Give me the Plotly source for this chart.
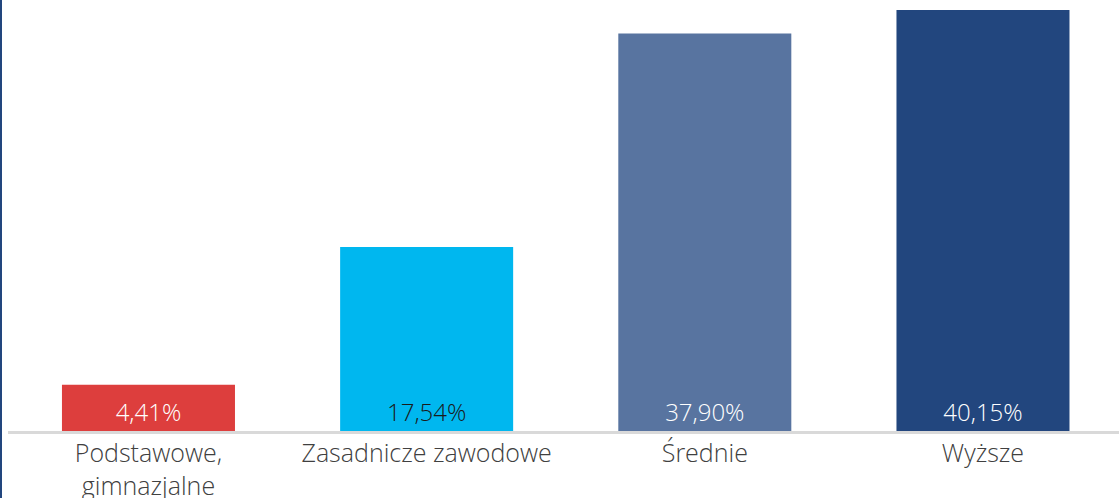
import plotly.graph_objects as go

categories = ["Podstawowe,<br>gimnazjalne", "Zasadnicze zawodowe", "Średnie", "Wyższe"]
values = [4.41, 17.54, 37.90, 40.15]
value_labels = ["4,41%", "17,54%", "37,90%", "40,15%"]
bar_colors = ["#DD3E3D", "#00B7EF", "#5874A0", "#22467E"]
text_colors = ["#FFFFFF", "#1a1a1a", "#FFFFFF", "#FFFFFF"]

fig = go.Figure(go.Bar(
    x=list(range(len(categories))),
    y=values,
    marker=dict(color=bar_colors, line=dict(width=0)),
    text=value_labels,
    textposition="inside",
    insidetextanchor="start",
    textangle=0,
    textfont=dict(family="Open Sans", size=24, color=text_colors, weight=300),
    hoverinfo="skip",
))

fig.update_layout(
    width=1119, height=498,
    margin=dict(l=8, r=0, t=0, b=67),
    paper_bgcolor="white", plot_bgcolor="white",
    showlegend=False,
    bargap=0.378,
    xaxis=dict(
        range=[-0.505, 3.489],
        tickmode="array",
        tickvals=list(range(len(categories))),
        ticktext=categories,
        showline=True, linecolor="#D9D9D9", linewidth=3,
        showgrid=False, zeroline=False, ticks="",
        automargin=False,
        ticklabelstandoff=-2,
        tickfont=dict(family="Open Sans", size=25, color="#404040", weight=300),
    ),
    yaxis=dict(
        range=[0, 41.1], visible=False, showgrid=False, zeroline=False,
    ),
    shapes=[dict(
        type="line", xref="paper", yref="paper",
        x0=-7/1111, x1=-7/1111, y0=-0.2, y1=1.05,
        line=dict(color="#22467E", width=2),
    )],
)

fig.write_html(
    "out.html",
    config={"displayModeBar": False, "staticPlot": True},
    post_script="document.body.style.margin='0';document.body.style.padding='0';document.body.style.overflow='hidden';",
)
